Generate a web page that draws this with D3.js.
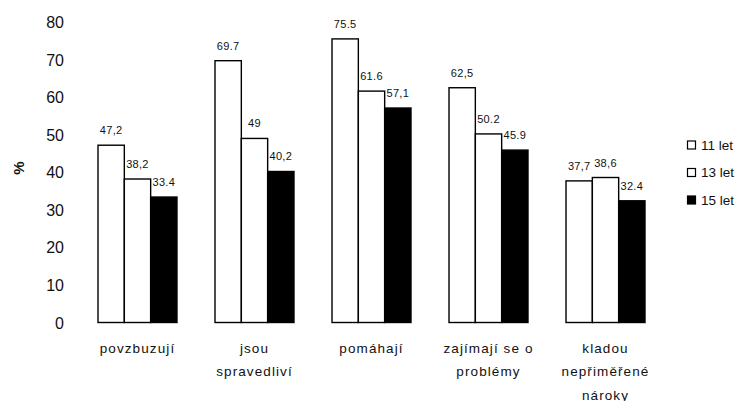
<!DOCTYPE html>
<html><head><meta charset="utf-8">
<script src="https://cdn.jsdelivr.net/npm/d3@7"></script>
<style>body{margin:0;background:#fff}svg{display:block}text{font-family:"Liberation Sans",Arial,sans-serif}</style>
</head><body><svg id="c" width="744" height="401"></svg>
<script>
const categories = [["povzbuzují"],["jsou","spravedliví"],["pomáhají"],["zajímají se o","problémy"],["kladou","nepřiměřené","nároky"]];
const seriesNames = ["11 let","13 let","15 let"];
const v11 = [47.2, 69.7, 75.5, 62.5, 37.7];
const v13 = [38.2, 49, 61.6, 50.2, 38.6];
const v15 = [33.4, 40.2, 57.1, 45.9, 32.4];
const lab11 = ["47,2","69.7","75.5","62,5","37,7"];
const lab13 = ["38,2","49","61.6","50.2","38,6"];
const lab15 = ["33.4","40,2","57,1","45.9","32.4"];
const yTicks = [0,10,20,30,40,50,60,70,80];
const fills = ["#fff","#fff","#000"];

const svg = d3.select("#c");
const y = d3.scaleLinear().domain([0,80]).range([322.5,22]);
const x0 = d3.scaleBand().domain(d3.range(categories.length)).range([39.5,703.5]).paddingInner(0.325).paddingOuter(0.5);
const x1 = d3.scaleBand().domain([0,1,2]).range([0,x0.bandwidth()]);
const series = [v11,v13,v15], labels=[lab11,lab13,lab15];

// y axis
const ya = svg.append("g").attr("transform","translate(64,0)")
  .call(d3.axisLeft(y).tickValues(yTicks).tickSize(0).tickPadding(0));
ya.select(".domain").remove();
ya.selectAll("text").attr("font-size",16).attr("fill","#111").attr("dy","0.35em");

svg.append("text").attr("transform","translate(24,168) rotate(-90)").attr("text-anchor","middle")
  .attr("font-size",15).attr("font-weight","bold").attr("fill","#111").text("%");

// bars
series.forEach((vals,s)=>{
  svg.append("g").selectAll("rect").data(vals).join("rect")
    .attr("x",(d,i)=>x0(i)+x1(s)).attr("width",x1.bandwidth())
    .attr("y",d=>y(d)).attr("height",d=>y(0)-y(d))
    .attr("fill",fills[s]).attr("stroke","#000").attr("stroke-width",1.4);
  svg.append("g").selectAll("text").data(vals).join("text")
    .attr("x",(d,i)=>x0(i)+x1(s)+x1.bandwidth()/2).attr("y",d=>y(d)-11)
    .attr("text-anchor","middle").attr("font-size",11).attr("fill","#111")
    .attr("letter-spacing","0.3px")
    .text((d,i)=>labels[s][i]);
});

// x axis category labels
const xa = svg.append("g");
categories.forEach((lines,i)=>{
  const t = xa.append("text").attr("text-anchor","middle").attr("font-size",13.5).attr("fill","#111")
    .attr("letter-spacing","1.1px");
  lines.forEach((ln,k)=>t.append("tspan").attr("x",x0(i)+x0.bandwidth()/2).attr("y",352.5+k*23.5).text(ln));
});

// legend
const lg = svg.append("g");
seriesNames.forEach((n,s)=>{
  const yy = 145 + s*27.5;
  lg.append("rect").attr("x",687.5).attr("y",yy-4).attr("width",8).attr("height",8)
    .attr("fill",fills[s]).attr("stroke","#000").attr("stroke-width",1.2);
  lg.append("text").attr("x",701).attr("y",yy).attr("dy","0.35em").attr("font-size",13.5).attr("fill","#111").text(n);
});
</script></body></html>
